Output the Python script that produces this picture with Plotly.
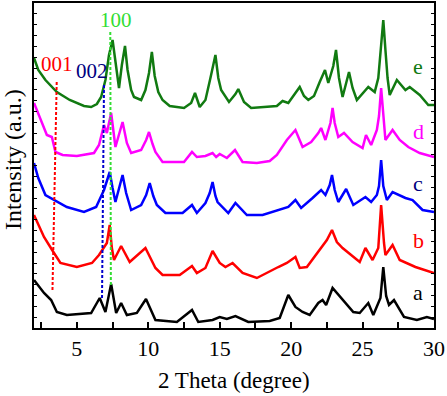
import plotly.graph_objects as go

# ---- data (2-theta in degrees, intensity in arbitrary units, already offset) ----
x_e = [2.0, 2.3, 2.8, 3.6, 4.5, 5.5, 6.0, 6.4, 6.7, 7.0, 7.25, 7.5, 7.65, 7.95, 8.15, 8.37, 8.55, 8.8, 9.0, 9.5, 9.8, 10.05, 10.25, 10.45, 10.7, 11.0, 11.5, 12.5, 13.0, 13.27, 13.6, 14.0, 14.35, 14.7, 14.9, 15.1, 15.65, 16.1, 16.3, 16.55, 16.7, 17.2, 18.0, 19.0, 19.4, 19.8, 20.6, 20.9, 21.2, 21.6, 22.0, 22.37, 22.6, 22.95, 23.14, 23.35, 23.6, 23.85, 24.05, 24.3, 24.6, 25.4, 25.85, 26.1, 26.3, 26.45, 26.6, 26.75, 26.9, 27.4, 28.0, 28.3, 29.0, 29.6, 30.0]
y_e = [270, 258, 248, 236, 228, 222, 221, 224, 231, 248, 273, 288, 272, 240, 263, 282, 258, 238, 231, 228, 238, 255, 276, 252, 236, 228, 222, 220, 225, 235, 221, 228, 250, 273, 250, 238, 226, 234, 239, 230, 226, 220, 221, 222, 227, 225, 241, 232, 228, 232, 246, 258, 245, 262, 278, 250, 231, 245, 256, 240, 228, 241, 236, 250, 280, 308, 278, 250, 233, 248, 238, 241, 233, 223, 223]

x_d = [2.0, 2.4, 2.9, 3.25, 3.5, 4.0, 5.0, 6.2, 6.55, 6.9, 7.1, 7.4, 7.7, 8.2, 8.5, 8.8, 9.5, 9.85, 10.05, 10.3, 10.5, 11.0, 12.5, 13.06, 13.4, 14.0, 14.5, 14.75, 15.0, 15.5, 16.07, 16.6, 17.6, 18.5, 19.0, 19.7, 20.3, 20.8, 21.4, 21.9, 22.1, 22.4, 22.75, 22.9, 23.05, 23.3, 23.7, 24.3, 25.0, 25.24, 25.6, 26.0, 26.15, 26.3, 26.45, 26.6, 27.1, 27.6, 28.2, 29.0, 30.0]
y_d = [225, 210, 193, 191, 176, 173, 172, 175, 183, 203, 195, 215, 181, 206, 185, 175, 178, 188, 196, 184, 176, 166, 166, 176, 171, 172, 175, 171, 174, 170, 178, 166, 165, 167, 173, 188, 198, 181, 186, 195, 200, 188, 205, 220, 205, 191, 195, 186, 180, 193, 183, 198, 212, 240, 212, 188, 198, 188, 181, 175, 171]

x_c = [2.0, 2.3, 2.8, 3.4, 4.3, 5.5, 6.35, 6.9, 7.3, 7.5, 7.7, 8.2, 8.45, 8.8, 9.5, 9.85, 10.1, 10.35, 10.6, 11.2, 12.4, 13.06, 13.4, 14.0, 14.3, 14.5, 14.7, 14.85, 15.6, 16.1, 16.9, 18.0, 19.2, 19.8, 20.3, 20.7, 21.5, 21.9, 22.1, 22.4, 22.7, 22.86, 23.05, 23.3, 23.85, 24.35, 25.2, 25.6, 26.0, 26.15, 26.3, 26.45, 26.7, 27.1, 28.0, 28.5, 29.2, 30.0]
y_c = [165, 150, 133, 128, 121, 116, 121, 138, 156, 140, 126, 153, 135, 118, 123, 133, 145, 132, 123, 115, 115, 123, 115, 125, 135, 146, 132, 126, 115, 125, 113, 113, 118, 121, 128, 120, 130, 135, 138, 133, 143, 153, 138, 126, 139, 123, 131, 126, 133, 142, 168, 142, 128, 136, 130, 128, 118, 116]

x_b = [2.0, 2.7, 3.4, 3.85, 5.0, 6.06, 6.55, 6.8, 7.1, 7.3, 7.45, 7.6, 8.1, 8.7, 9.8, 10.5, 11.0, 12.2, 13.06, 13.4, 14.0, 14.5, 15.0, 15.4, 15.9, 16.6, 17.6, 19.1, 19.7, 20.3, 20.6, 21.1, 21.9, 22.5, 22.86, 23.2, 23.6, 24.4, 24.8, 25.2, 25.7, 26.1, 26.3, 26.5, 26.6, 27.1, 27.6, 28.7, 30.0]
y_b = [113, 91, 75, 65, 61, 65, 73, 78, 85, 103, 80, 68, 82, 66, 80, 60, 53, 53, 62, 55, 60, 77, 65, 61, 65, 55, 50, 61, 65, 71, 60, 61, 76, 88, 98, 86, 80, 70, 66, 80, 68, 80, 123, 85, 73, 83, 68, 61, 55]

x_a = [2.0, 2.7, 3.2, 3.6, 4.3, 6.0, 6.6, 7.0, 7.4, 7.75, 8.1, 8.5, 9.2, 9.84, 10.5, 12.0, 13.06, 13.5, 14.5, 15.0, 15.5, 16.1, 17.0, 18.5, 19.2, 19.8, 20.3, 20.8, 21.3, 21.9, 22.2, 22.45, 22.9, 23.6, 24.35, 24.8, 25.4, 25.75, 26.25, 26.45, 26.65, 26.85, 27.2, 27.9, 28.8, 29.5, 30.0]
y_a = [48, 35, 28, 16, 13, 15, 30, 16, 44, 15, 25, 13, 15, 29, 8, 6, 18, 6, 8, 11, 9, 12, 6, 7, 10, 33, 21, 16, 13, 25, 28, 23, 40, 28, 16, 15, 25, 13, 30, 61, 32, 23, 28, 11, 8, 11, 9]

series = [
    ("a", x_a, y_a, "#000000", "#000000"),
    ("b", x_b, y_b, "#ff0000", "#ff0000"),
    ("c", x_c, y_c, "#0000ff", "#000080"),
    ("d", x_d, y_d, "#ff00ff", "#ff00ff"),
    ("e", x_e, y_e, "#117a11", "#117a11"),
]
label_x = 28.9
label_y = {"a": 36, "b": 88, "c": 145, "d": 197, "e": 262}

# reflection markers
refl_names = ["001", "002", "100"]
refl_xtop = [3.59, 6.9, 7.34]
refl_xbot = [3.29, 6.76, 7.38]
refl_ytop = [246, 243, 296]
refl_ybot = [36, 28, 43]
refl_colors = ["#ff0000", "#0000cc", "#33dd33"]
refl_text_colors = ["#ff0000", "#000080", "#33dd33"]
refl_lab_x = [3.61, 6.06, 7.74]
refl_lab_y = [264, 257, 308]

x_ticks = [5, 10, 15, 20, 25, 30]
x_minor = [2.5, 7.5, 12.5, 17.5, 22.5, 27.5]

fig = go.Figure()
for name, xs, ys, col, _ in series:
    fig.add_trace(go.Scatter(x=xs, y=ys, mode="lines",
                             line=dict(color=col, width=2.5), showlegend=False))

for i in range(3):
    fig.add_trace(go.Scatter(x=[refl_xtop[i], refl_xbot[i]], y=[refl_ytop[i], refl_ybot[i]],
                             mode="lines", showlegend=False,
                             line=dict(color=refl_colors[i], width=2, dash="3px,2px")))

serif = "Liberation Serif, Times New Roman, serif"
annotations = []
for name, xs, ys, _, tcol in series:
    annotations.append(dict(x=label_x, y=label_y[name], xref="x", yref="y", text=name,
                            xanchor="center", yanchor="middle",
                            showarrow=False, font=dict(family=serif, size=22, color=tcol)))
for i in range(3):
    annotations.append(dict(x=refl_lab_x[i], y=refl_lab_y[i], xref="x", yref="y", text=refl_names[i],
                            xanchor="center", yanchor="middle",
                            showarrow=False, font=dict(family=serif, size=21, color=refl_text_colors[i])))
annotations.append(dict(x=0.5, y=-0.162, xref="paper", yref="paper", text="2 Theta (degree)",
                        xanchor="center", yanchor="middle",
                        showarrow=False, font=dict(family=serif, size=23, color="black")))
annotations.append(dict(x=-0.0525, y=0.517, xref="paper", yref="paper", text="Intensity (a.u.)",
                        xanchor="center", yanchor="middle",
                        textangle=-90, showarrow=False, font=dict(family=serif, size=24, color="black")))

fig.update_layout(
    width=447, height=396,
    margin=dict(l=34, r=13, t=3, b=68, autoexpand=False),
    paper_bgcolor="white", plot_bgcolor="white",
    annotations=annotations,
    xaxis=dict(range=[2, 30], tickvals=x_ticks, ticktext=[str(v) for v in x_ticks],
               ticks="inside", ticklen=6, tickwidth=1.5, tickcolor="black",
               minor=dict(tickvals=x_minor, ticks="inside", ticklen=6,
                          tickwidth=1.5, tickcolor="black"),
               showline=True, linecolor="black", linewidth=2, mirror=True,
               showgrid=False, zeroline=False, automargin=False,
               tickfont=dict(family=serif, size=22, color="black")),
    yaxis=dict(range=[0, 325], dtick=10.83, tick0=0, ticks="inside", ticklen=3, tickwidth=1,
               tickcolor="black", showticklabels=False, automargin=False,
               showline=True, linecolor="black", linewidth=2, mirror="ticks",
               showgrid=False, zeroline=False),
)

fig.write_html("out.html", config={"displayModeBar": False},
               post_script="document.body.style.margin='0';document.body.style.padding='0';")
